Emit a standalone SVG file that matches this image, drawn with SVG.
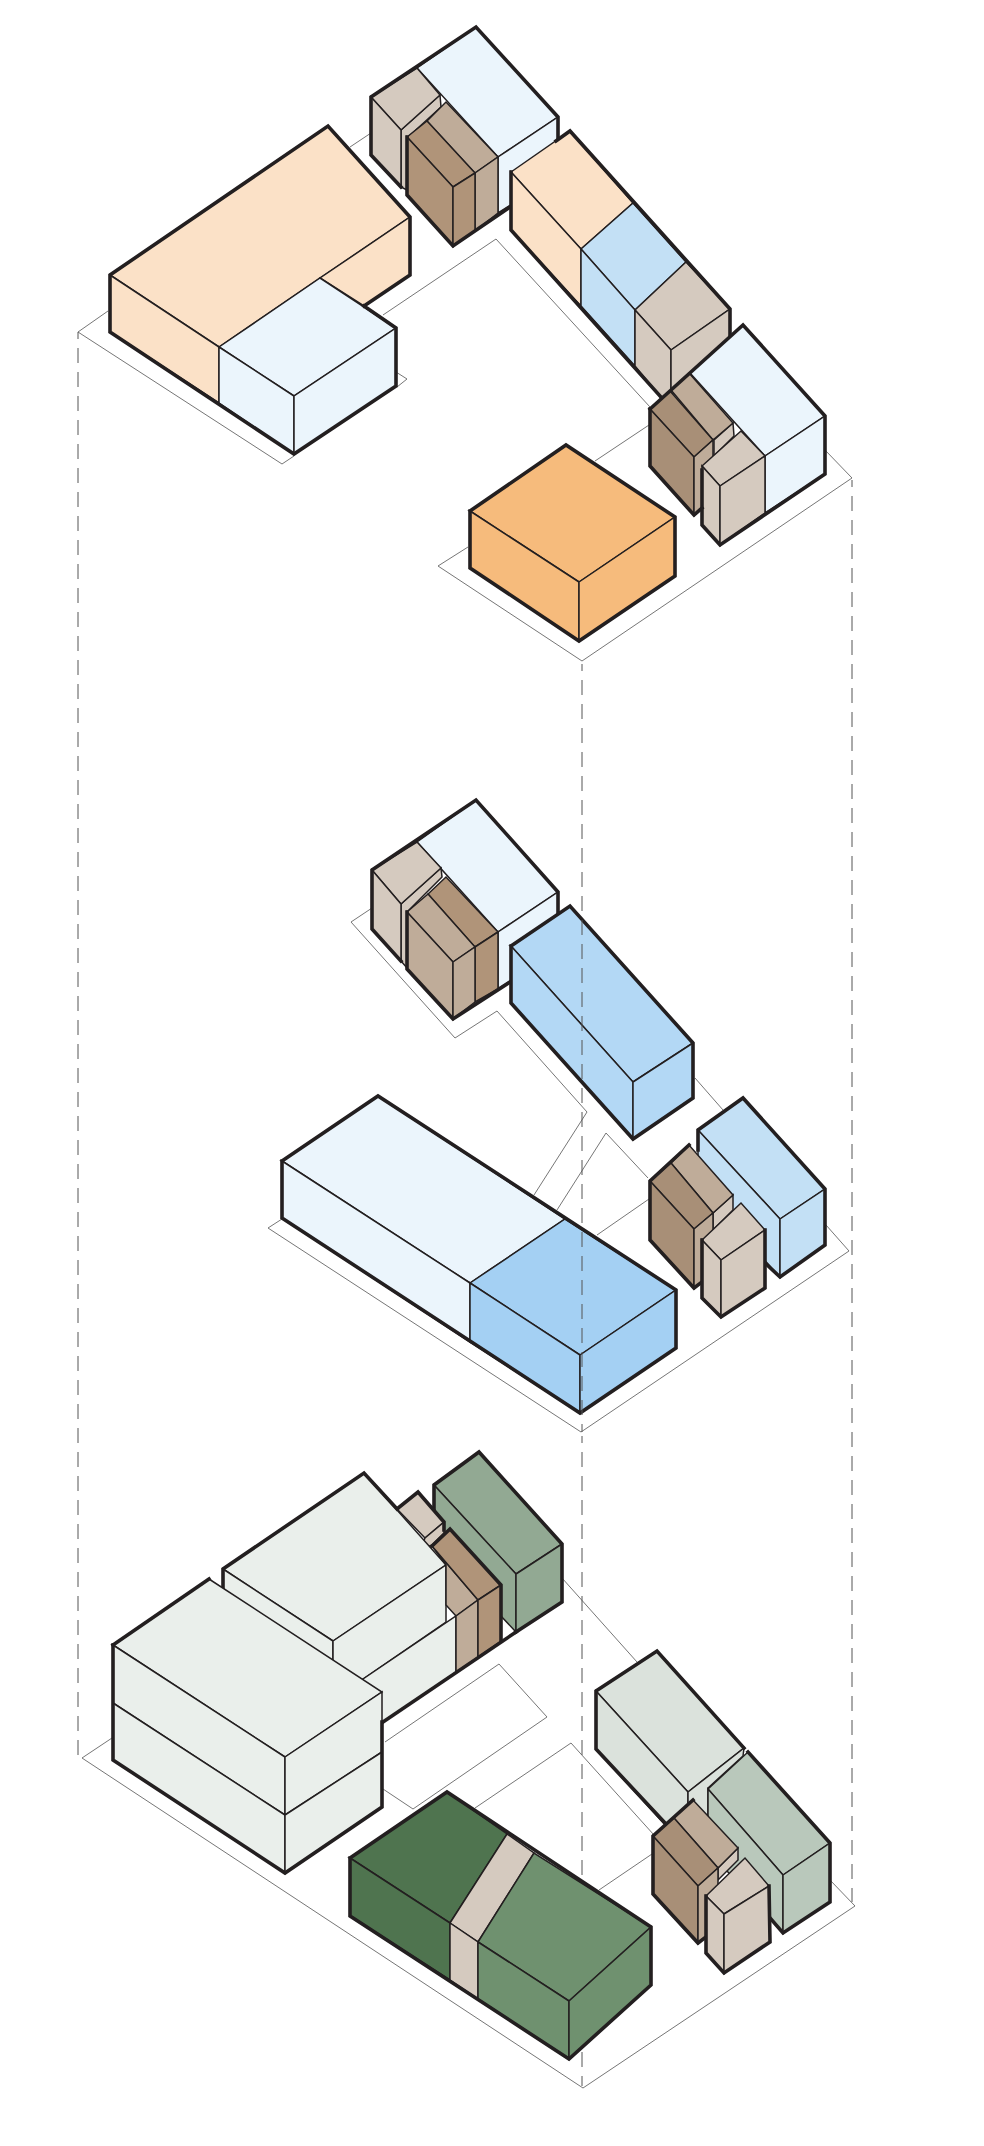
<svg xmlns="http://www.w3.org/2000/svg" width="984" height="2146" viewBox="0 0 984 2146">
<style>
.s{fill:none;stroke:#666;stroke-width:.9}
.d{fill:none;stroke:#555;stroke-width:1;stroke-dasharray:15 9;stroke-dashoffset:8}
polygon{stroke:#231f20;stroke-width:1.5;stroke-linejoin:miter}
.o{fill:none;stroke:#231f20;stroke-width:3.6;stroke-linejoin:miter;stroke-linecap:square}
.pe{fill:#fbe1c7}.pb{fill:#ebf5fc}.ta{fill:#d5cabf}.dk{fill:#a88f77}.md{fill:#bfac99}
.b2{fill:#c3e0f5}.or{fill:#f6bb7c}.b1{fill:#b3d8f5}.b3{fill:#a4d0f3}
.og{fill:#eaefeb}.gr{fill:#92a993}.dg{fill:#4f744f}.mg{fill:#6f916f}.pg{fill:#dbe2dc}.sg{fill:#b9c8bb}
.br{fill:#b09479}
</style>
<rect width="984" height="2146" fill="#fff"/>
<g id="connectors">
<polyline class="s" points="108,311 78,332 282,464 294,456"/>
<polyline class="s" points="397,387 407,379 396,372"/>
<polyline class="s" points="350,147 371,133"/>
<polyline class="s" points="383,315 496,239 650,407"/>
<polyline class="s" points="468,547 438,566 582,661 852,478 825,450"/>
<polyline class="s" points="595,461 649,425"/>
<polyline class="s" points="372,908 351,922 455,1038 497,1011 587,1112 534,1195"/>
<polyline class="s" points="557,1210 606,1133 648,1178"/>
<polyline class="s" points="597,1235 649,1199"/>
<polyline class="s" points="695,1078 723,1110"/>
<polyline class="s" points="826,1225 849,1251 581,1432 268,1228 282,1219"/>
<polyline class="s" points="112,1738 82,1758 583,2088 855,1906 830,1880"/>
<polyline class="s" points="385,1742 499,1664 547,1717 413,1809 383,1789"/>
<polyline class="s" points="475,1808 571,1743 654,1835"/>
<polyline class="s" points="599,1890 652,1854"/>
<polyline class="s" points="562,1578 637,1662"/>
<path class="d" d="M78 332V1758M852 480V1902M582 1436V2086"/>
</g>
<g id="level-3-a">
<polygon class="pe" points="110,275 328,126 410,217 219,347"/>
<polygon class="pe" points="110,275 219,347 219,403 110,332"/>
<polygon class="pe" points="410,217 410,275 364,306 320,278"/>
<polygon class="pb" points="219,347 320,278 396,328 294,396"/>
<polygon class="pb" points="219,347 294,396 294,454 219,403"/>
<polygon class="pb" points="396,328 396,386 294,454 294,396"/>
<polyline class="o" points="364,306 410,275 410,217 328,126 110,275 110,332 294,454 396,386 396,328 364,306"/>
</g>
<g id="level-3-b">
<polygon class="pb" points="417,68 476,27 558,117 498,157"/>
<polygon class="pb" points="498,157 558,117 558,175 498,213"/>
<polygon class="ta" points="401,130 440,95 441,107 407,138 407,190 401,187"/>
<polygon class="ta" points="371,97 417,68 440,95 401,130"/>
<polygon class="ta" points="371,97 401,130 401,187 371,155"/>
<polygon class="md" points="427,121 446,102 498,157 475,173"/>
<polygon class="md" points="475,173 498,157 498,213 475,231"/>
<polygon class="br" points="407,137 427,121 475,173 453,187"/>
<polygon class="br" points="407,137 453,187 453,246 407,195"/>
<polygon class="br" points="453,187 475,173 475,231 453,246"/>
<polyline class="o" points="401,187 371,155 371,97 476,27 558,117 558,150"/>
<polyline class="o" points="407,137 407,195 453,246 510,207"/>
</g>
<g id="level-3-c">
<polygon class="pe" points="511,172 570,131 633,203 581,249"/>
<polygon class="pe" points="511,172 581,249 581,306 511,230"/>
<polygon class="b2" points="581,249 633,203 686,262 635,310"/>
<polygon class="b2" points="581,249 635,310 635,366 581,306"/>
<polygon class="ta" points="635,310 686,262 730,309 671,350"/>
<polygon class="ta" points="635,310 671,350 671,410 635,366"/>
<polygon class="ta" points="671,350 730,309 730,345 671,395"/>
<polyline class="o" points="661,397 511,230 511,172"/>
<polyline class="o" points="556,141 570,131 730,309 730,336"/>
</g>
<g id="level-3-d">
<polygon class="pb" points="690,373 743,325 825,416 765,456"/>
<polygon class="pb" points="765,456 825,416 825,474 765,513"/>
<polygon class="ta" points="714,440 733,423 734,436 714,456"/>
<polygon class="md" points="671,390 689,373 733,423 713,440"/>
<polygon class="dk" points="650,409 670,391 713,440 694,457"/>
<polygon class="dk" points="650,409 694,457 694,515 650,466"/>
<polygon class="md" points="694,457 713,440 713,500 694,515"/>
<polygon class="ta" points="702,466 741,431 765,456 720,486"/>
<polygon class="ta" points="702,466 720,486 720,545 702,525"/>
<polygon class="ta" points="720,486 765,456 765,513 720,545"/>
<polyline class="o" points="650,409 743,325 825,416 825,474 720,545 702,525 702,470"/>
<polyline class="o" points="650,409 650,466 694,515 702,508"/>
</g>
<g id="level-3-e">
<polygon class="or" points="470,511 566,445 675,517 579,582"/>
<polygon class="or" points="470,511 579,582 579,641 470,568"/>
<polygon class="or" points="579,582 675,517 675,576 579,641"/>
<polyline class="o" points="470,511 566,445 675,517 675,576 579,641 470,568 470,511"/>
</g>
<g id="level-2-a">
<polygon class="pb" points="417,842 476,800 558,892 498,932"/>
<polygon class="pb" points="498,932 558,892 558,950 498,989"/>
<polygon class="ta" points="401,904 441,868 442,877 407,912 407,968 401,961"/>
<polygon class="ta" points="372,870 417,842 441,868 401,904"/>
<polygon class="ta" points="372,870 401,904 401,961 372,929"/>
<polygon class="br" points="428,894 446,877 498,932 475,947"/>
<polygon class="br" points="475,947 498,932 498,989 475,1002"/>
<polygon class="md" points="407,912 428,894 475,947 453,962"/>
<polygon class="md" points="407,912 453,962 453,1019 407,969"/>
<polygon class="md" points="453,962 475,947 475,1002 453,1019"/>
<polyline class="o" points="401,961 372,929 372,870 476,800 558,892 558,915"/>
<polyline class="o" points="407,912 407,969 453,1019 510,982"/>
</g>
<g id="level-2-b">
<polygon class="b1" points="511,946 570,906 693,1043 633,1082"/>
<polygon class="b1" points="511,946 633,1082 633,1139 511,1003"/>
<polygon class="b1" points="633,1082 693,1043 693,1098 633,1139"/>
<polyline class="o" points="511,946 570,906 693,1043 693,1098 633,1139 511,1003 511,946"/>
</g>
<g id="level-2-c">
<polygon class="pb" points="282,1161 378,1096 565,1219 470,1283"/>
<polygon class="pb" points="282,1161 470,1283 470,1342 282,1218"/>
<polygon class="b3" points="470,1283 565,1219 676,1290 580,1355"/>
<polygon class="b3" points="470,1283 580,1355 580,1413 470,1342"/>
<polygon class="b3" points="580,1355 676,1290 676,1348 580,1413"/>
<polyline class="o" points="282,1161 378,1096 676,1290 676,1348 580,1413 282,1218 282,1161"/>
</g>
<g id="level-2-d">
<polygon class="b2" points="698,1130 743,1098 825,1189 780,1219"/>
<polygon class="b2" points="698,1130 780,1219 780,1277 698,1188"/>
<polygon class="b2" points="780,1219 825,1189 825,1245 780,1277"/>
<polyline class="o" points="765,1263 780,1277 825,1245 825,1189 743,1098 698,1130 698,1150"/>
<polygon class="ta" points="713,1213 733,1195 733,1210 713,1230"/>
<polygon class="md" points="671,1163 689,1145 733,1195 713,1213"/>
<polygon class="dk" points="650,1181 671,1163 713,1213 694,1229"/>
<polygon class="dk" points="650,1181 694,1229 694,1288 650,1240"/>
<polygon class="md" points="694,1229 713,1213 713,1272 694,1288"/>
<polyline class="o" points="689,1145 650,1181 650,1240 694,1288 702,1282"/>
<polygon class="ta" points="702,1240 741,1203 765,1230 721,1260"/>
<polygon class="ta" points="702,1240 721,1260 721,1317 702,1298"/>
<polygon class="ta" points="721,1260 765,1230 765,1288 721,1317"/>
<polyline class="o" points="765,1230 765,1288 721,1317 702,1298 702,1240"/>
</g>
<g id="level-1-a">
<polygon class="gr" points="434,1485 479,1452 562,1544 516,1574"/>
<polygon class="gr" points="434,1485 516,1574 516,1632 434,1545"/>
<polygon class="gr" points="516,1574 562,1544 562,1602 516,1632"/>
<polyline class="o" points="434,1510 434,1485 479,1452 562,1544 562,1602 516,1632"/>
<polygon class="ta" points="397,1509 418,1492 444,1522 425,1538"/>
<polygon class="ta" points="425,1538 444,1522 444,1533 432,1545 420,1550"/>
<polyline class="o" points="397,1509 418,1492 444,1522 444,1530"/>
<polygon class="og" points="223,1569 364,1473 446,1565 333,1641"/>
<polygon class="og" points="223,1569 333,1641 333,1700 223,1630"/>
<polygon class="og" points="333,1641 446,1565 446,1622 363,1679 333,1700"/>
<polygon class="og" points="363,1679 456,1616 456,1672 383,1722 363,1722"/>
<polygon class="md" points="432,1546 478,1600 456,1616 446,1605 446,1565"/>
<polygon class="md" points="456,1616 478,1600 478,1657 456,1672"/>
<polygon class="br" points="432,1546 450,1529 501,1585 478,1600"/>
<polygon class="br" points="478,1600 501,1585 501,1641 478,1657"/>
<polyline class="o" points="223,1590 223,1569 364,1473 397,1509"/>
<polyline class="o" points="432,1546 450,1529 501,1585 501,1641"/>
<polyline class="o" points="383,1722 516,1632"/>
<polygon class="og" points="113,1645 209,1579 382,1692 285,1757"/>
<polygon class="og" points="113,1645 285,1757 285,1815 113,1703"/>
<polygon class="og" points="113,1703 285,1815 285,1873 113,1760"/>
<polygon class="og" points="285,1757 382,1692 382,1752 285,1815"/>
<polygon class="og" points="285,1815 382,1752 382,1807 285,1873"/>
<polyline class="o" points="113,1645 209,1579"/>
<polyline class="o" points="382,1722 382,1807 285,1873 113,1760 113,1645"/>
</g>
<g id="level-1-b">
<polygon class="dg" points="350,1858 447,1792 507,1834 450,1923"/>
<polygon class="ta" points="450,1923 507,1834 534,1853 478,1942"/>
<polygon class="mg" points="478,1942 534,1853 651,1927 569,2001"/>
<polygon class="dg" points="350,1858 450,1923 450,1980 350,1916"/>
<polygon class="ta" points="450,1923 478,1942 478,1999 450,1980"/>
<polygon class="mg" points="478,1942 569,2001 569,2059 478,1999"/>
<polygon class="mg" points="569,2001 651,1927 651,1985 569,2059"/>
<polyline class="o" points="350,1858 447,1792 651,1927 651,1985 569,2059 350,1916 350,1858"/>
</g>
<g id="level-1-c">
<polygon class="pg" points="596,1691 657,1651 744,1748 688,1792"/>
<polygon class="pg" points="596,1691 688,1792 688,1850 596,1749"/>
<polygon class="pg" points="688,1792 744,1748 743,1756 708,1788 708,1815 688,1830"/>
<polyline class="o" points="665,1823 596,1749 596,1691 657,1651 744,1748"/>
<polygon class="sg" points="708,1789 748,1752 830,1843 783,1875"/>
<polygon class="sg" points="708,1789 783,1875 783,1933 708,1850"/>
<polygon class="sg" points="783,1875 830,1843 830,1902 783,1933"/>
<polyline class="o" points="770,1918 783,1933 830,1902 830,1843 748,1752"/>
<polygon class="ta" points="718,1868 738,1848 738,1860 718,1880"/>
<polygon class="md" points="674,1818 693,1800 738,1848 718,1868"/>
<polygon class="dk" points="653,1836 674,1818 718,1868 698,1886"/>
<polygon class="dk" points="653,1836 698,1886 698,1943 653,1894"/>
<polygon class="md" points="698,1886 718,1868 718,1925 698,1943"/>
<polyline class="o" points="693,1800 653,1836 653,1894 698,1943 706,1937"/>
<polygon class="ta" points="706,1896 745,1858 769,1886 724,1914"/>
<polygon class="ta" points="706,1896 724,1914 724,1973 706,1953"/>
<polygon class="ta" points="724,1914 769,1886 770,1942 724,1973"/>
<polyline class="o" points="769,1886 770,1942 724,1973 706,1953 706,1896"/>
</g>
<path class="d" d="M582 664V1432"/>
</svg>
